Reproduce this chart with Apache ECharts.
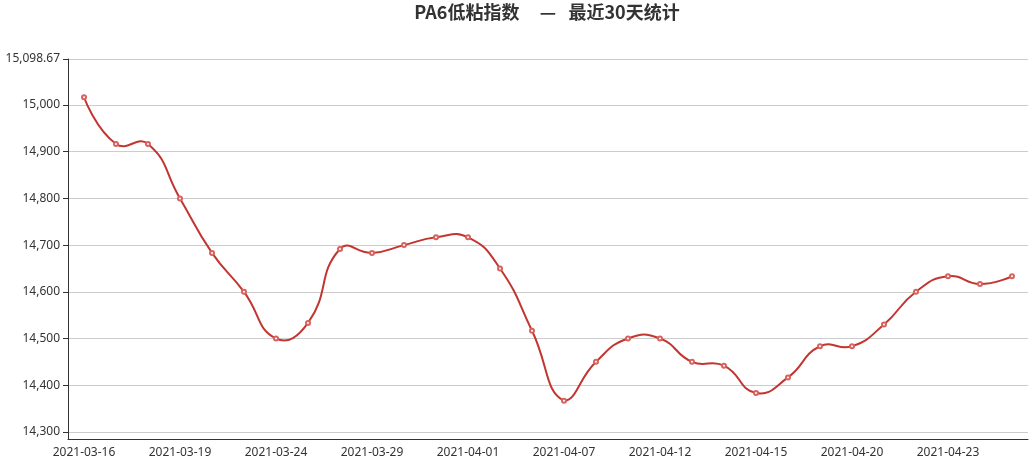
<!DOCTYPE html>
<html>
<head>
<meta charset="utf-8">
<title>PA6低粘指数</title>
<script src="https://cdn.jsdelivr.net/npm/echarts@6/dist/echarts.min.js"></script>
<style>
  html, body { margin: 0; padding: 0; background: #fff; }
  #chart { width: 1031px; height: 459px; }
</style>
</head>
<body>
<div id="chart"></div>
<script>
// Trading days covered by the index
var dates = [
  '2021-03-16', '2021-03-17', '2021-03-18', '2021-03-19', '2021-03-22',
  '2021-03-23', '2021-03-24', '2021-03-25', '2021-03-26', '2021-03-29',
  '2021-03-30', '2021-03-31', '2021-04-01', '2021-04-02', '2021-04-06',
  '2021-04-07', '2021-04-08', '2021-04-09', '2021-04-12', '2021-04-13',
  '2021-04-14', '2021-04-15', '2021-04-16', '2021-04-19', '2021-04-20',
  '2021-04-21', '2021-04-22', '2021-04-23', '2021-04-26', '2021-04-27'
];

// Daily PA6 low-viscosity index values
var indexValues = [
  15016.67, 14916.67, 14916.67, 14800.00, 14683.33,
  14600.00, 14500.00, 14533.33, 14691.67, 14683.33,
  14700.00, 14716.67, 14716.67, 14650.00, 14516.67,
  14366.67, 14450.00, 14500.00, 14500.00, 14450.00,
  14441.67, 14383.33, 14416.67, 14483.33, 14483.33,
  14530.00, 14600.00, 14633.33, 14616.67, 14633.33
];

// Value-axis range: data extent padded by 82 on each side
var axisPad = 82;
var yMin = Math.min.apply(null, indexValues) - axisPad;
var yMax = Math.max.apply(null, indexValues) + axisPad;

var LINE_COLOR = '#c23531';
var SMOOTH = 0.5;
var labelFont = "'Noto Sans', 'Microsoft YaHei', sans-serif";
var titleFont = "'Microsoft YaHei', 'Noto Sans CJK SC', sans-serif";

// Cardinal-style bezier through the projected points; control points are
// limited to the bounding box of the points (allows gentle overshoot).
function smoothPath(pts, smooth) {
  var minX = Infinity, minY = Infinity, maxX = -Infinity, maxY = -Infinity;
  pts.forEach(function (p) {
    minX = Math.min(minX, p[0]); maxX = Math.max(maxX, p[0]);
    minY = Math.min(minY, p[1]); maxY = Math.max(maxY, p[1]);
  });
  function clamp(c) {
    return [Math.max(minX, Math.min(maxX, c[0])), Math.max(minY, Math.min(maxY, c[1]))];
  }
  function dist(a, b) { return Math.sqrt((a[0] - b[0]) * (a[0] - b[0]) + (a[1] - b[1]) * (a[1] - b[1])); }
  var d = 'M' + pts[0][0] + ' ' + pts[0][1];
  var cp0 = pts[0].slice();
  for (var i = 1; i < pts.length; i++) {
    var p = pts[i], prev = pts[i - 1], next = pts[i + 1];
    var cp1, ratio = 0.5, v = [0, 0];
    if (!next) {
      cp1 = p.slice();
    } else {
      v = [next[0] - prev[0], next[1] - prev[1]];
      var lp = dist(p, prev), ln = dist(p, next);
      ratio = ln / (ln + lp);
      cp1 = [p[0] - v[0] * smooth * (1 - ratio), p[1] - v[1] * smooth * (1 - ratio)];
    }
    cp0 = clamp(cp0); cp1 = clamp(cp1);
    d += ' C' + cp0[0] + ' ' + cp0[1] + ' ' + cp1[0] + ' ' + cp1[1] + ' ' + p[0] + ' ' + p[1];
    cp0 = [p[0] + v[0] * smooth * ratio, p[1] + v[1] * smooth * ratio];
  }
  return d;
}

var chart = echarts.init(document.getElementById('chart'));
chart.setOption({
  animation: false,
  textStyle: { fontFamily: labelFont },
  title: {
    text: 'PA6低粘指数     —   最近30天统计',
    left: 542,
    top: 0,
    padding: [3, 5, 5, 5],
    textAlign: 'center',
    textStyle: { fontSize: 18, fontWeight: 'bold', color: '#333', fontFamily: titleFont }
  },
  grid: { left: 68, right: 3, top: 59, bottom: 20, containLabel: false },
  xAxis: {
    type: 'category',
    data: dates,
    boundaryGap: true,
    axisLine: { lineStyle: { color: '#333' } },
    axisTick: {
      interval: function (idx) { return idx % 3 === 2; },
      lineStyle: { color: '#333' }
    },
    axisLabel: { interval: 2, color: '#333', fontSize: 12, margin: 8, fontFamily: labelFont },
    splitLine: { show: false }
  },
  yAxis: {
    type: 'value',
    min: yMin,
    max: yMax,
    minInterval: 100,
    maxInterval: 100,
    axisLine: { show: true, lineStyle: { color: '#333' } },
    axisTick: { show: true, lineStyle: { color: '#333' } },
    axisLabel: { color: '#333', fontSize: 12, fontFamily: labelFont },
    splitLine: { show: true, lineStyle: { color: '#ccc' } }
  },
  series: [
    {
      // smooth curve through all daily values
      type: 'custom',
      data: indexValues.map(function (v, i) { return [i, v]; }),
      encode: { x: 0, y: 1 },
      silent: true,
      renderItem: function (params, api) {
        if (params.dataIndex !== 0) return null;
        var pts = indexValues.map(function (v, i) { return api.coord([i, v]); });
        return {
          type: 'path',
          shape: { pathData: smoothPath(pts, SMOOTH) },
          style: { fill: null, stroke: LINE_COLOR, lineWidth: 2 }
        };
      }
    },
    {
      // point markers
      name: 'PA6低粘指数',
      type: 'line',
      data: indexValues,
      symbol: 'emptyCircle',
      symbolSize: 4,
      showAllSymbol: true,
      lineStyle: { width: 0, opacity: 0 },
      itemStyle: { color: '#d9625e', borderWidth: 1 },
      z: 3
    }
  ]
});
</script>
</body>
</html>
